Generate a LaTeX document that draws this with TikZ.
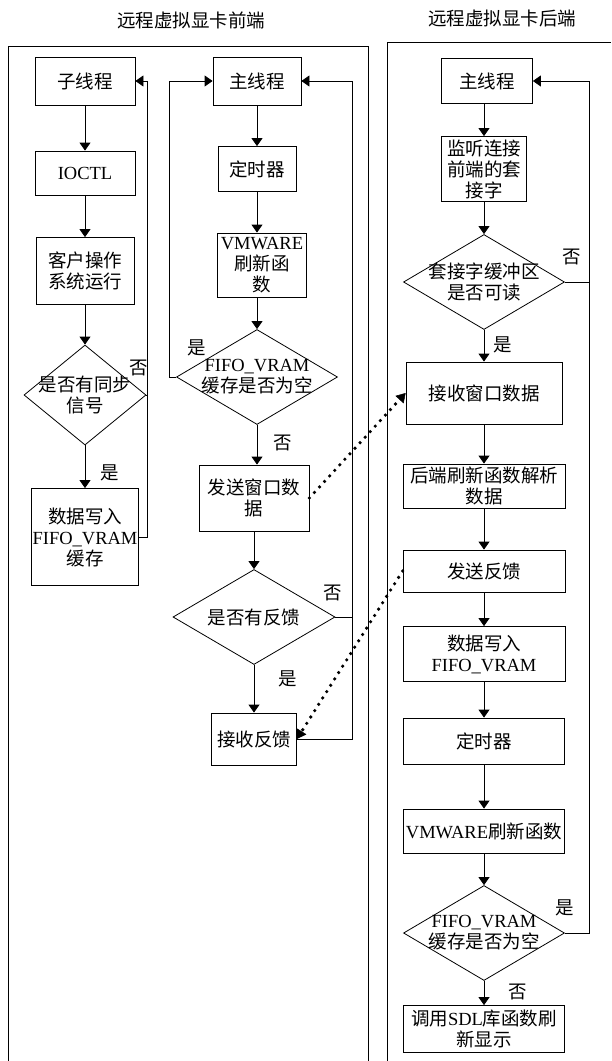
\documentclass[tikz,border=0pt]{standalone}
\usepackage{fontspec}
\setmainfont{Liberation Serif}
\newfontfamily\cjk{Noto Sans CJK SC}
\usetikzlibrary{shapes.geometric,arrows.meta}
\newcommand{\en}[1]{{\rmfamily #1}}
\begin{document}
\begin{tikzpicture}[x=1pt,y=-1pt]
\tikzstyle{every node}+=[inner sep=0pt,font=\cjk\fontsize{18.5}{21}\selectfont,align=center]
\tikzstyle{box}=[draw,line width=0.8pt,rectangle]
\tikzstyle{dia}=[draw,line width=0.8pt,diamond]
\tikzstyle{ln}=[line width=0.8pt]
\tikzstyle{arr}=[line width=0.8pt,-{Triangle[length=8pt,width=11pt]}]
\tikzstyle{dots}=[line width=3.6pt,line cap=round,dash pattern=on 0pt off 7.5pt,-{Triangle[length=9pt,width=11pt,line width=0.5pt]}]
\useasboundingbox (0,0) rectangle (611,1061);
\draw [line width=0.9pt] (8,1061) -- (8,46) -- (368,46) -- (368,1061);
\draw [line width=0.9pt] (387,1061) -- (387,42) -- (611,42);
\node (ftitle) at (191,20) {远程虚拟显卡前端};
\node (btitle) at (502,18) {远程虚拟显卡后端};
% front end, child thread
\node [box,minimum width=100,minimum height=48] (cthr) at (85,81) {子线程};
\node [box,minimum width=100,minimum height=44] (ioctl) at (85,173) {\en{IOCTL}};
\node [box,minimum width=98,minimum height=67] (guest) at (85,271) {客户操作\\系统运行};
\node [dia,minimum width=122,minimum height=100] (dsync) at (85,395) {};
\node (dsynct) at (dsync) {是否有同步\\信号};
\node [box,minimum width=107,minimum height=97] (wfifo) at (85,537) {数据写入\\\en{FIFO\_VRAM}\\缓存};
% front end, main thread
\node [box,minimum width=88,minimum height=48] (mthr) at (257,81) {主线程};
\node [box,minimum width=78,minimum height=45] (timer1) at (257,169) {定时器};
\node [box,minimum width=89,minimum height=64] (vmw1) at (262,265) {\en{VMWARE}\\刷新函\\数};
\node [dia,minimum width=161,minimum height=95] (dempty1) at (257,377) {};
\node (dempty1t) at (dempty1) {\en{FIFO\_VRAM}\\缓存是否为空};
\node [box,minimum width=110,minimum height=66] (sendwin) at (254,498) {发送窗口数\\据};
\node [dia,minimum width=162,minimum height=95] (dfb) at (254,617) {};
\node (dfbt) at (dfb) {是否有反馈};
\node [box,minimum width=85,minimum height=52] (rcvfb) at (254,739) {接收反馈};
% back end
\node [box,minimum width=91,minimum height=45] (bthr) at (487,81) {主线程};
\node [box,minimum width=85,minimum height=65] (listen) at (484,169) {监听连接\\前端的套\\接字};
\node [dia,minimum width=161,minimum height=95] (dread) at (484,282) {};
\node (dreadt) at (dread) {套接字缓冲区\\是否可读};
\node [box,minimum width=156,minimum height=62] (rcvwin) at (484,393) {接收窗口数据};
\node [box,minimum width=162,minimum height=44] (parse) at (484,486) {后端刷新函数解析\\数据};
\node [box,minimum width=162,minimum height=42] (sendfb) at (484,571) {发送反馈};
\node [box,minimum width=162,minimum height=55] (wfifo2) at (484,654) {数据写入\\\en{FIFO\_VRAM}};
\node [box,minimum width=161,minimum height=46] (timer2) at (484,741) {定时器};
\node [box,minimum width=161,minimum height=44] (vmw2) at (484,831) {\en{VMWARE}刷新函数};
\node [dia,minimum width=161,minimum height=95] (dempty2) at (484,933) {};
\node (dempty2t) at (dempty2) {\en{FIFO\_VRAM}\\缓存是否为空};
\node [box,minimum width=161,minimum height=47] (sdl) at (484,1029) {调用\en{SDL}库函数刷\\新显示};
% labels
\node (l1) at (139,368) {否};
\node (l2) at (110,473) {是};
\node (l3) at (197,348) {是};
\node (l4) at (283,443) {否};
\node (l5) at (333,593) {否};
\node (l6) at (288,679) {是};
\node (l7) at (572,257) {否};
\node (l8) at (503,345) {是};
\node (l9) at (565,908) {是};
\node (l10) at (518,992) {否};
% loop corners
\coordinate (cloop) at (147,537);
\coordinate (mloopl) at (169,377);
\coordinate (mloopr) at (352,739);
\coordinate (bloop) at (589,933);
% arrows
\draw [arr] (cthr) -- (ioctl);
\draw [arr] (ioctl) -- (guest);
\draw [arr] (guest) -- (dsync);
\draw [arr] (dsync) -- (wfifo);
\draw [arr] (wfifo.east) -- (cloop) |- (cthr.east);
\draw [ln] (dsync.east) -- (dsync.east -| cloop);
\draw [arr] (mthr) -- (timer1);
\draw [arr] (timer1.south) -- (timer1.south |- vmw1.north);
\draw [arr] (timer1.south |- vmw1.south) -- (dempty1.north);
\draw [arr] (dempty1.south) -- (dempty1.south |- sendwin.north);
\draw [arr] (sendwin) -- (dfb);
\draw [arr] (dfb) -- (rcvfb);
\draw [arr] (dempty1.west) -- (mloopl) |- (mthr.west);
\draw [arr] (rcvfb.east) -- (mloopr) |- (mthr.east);
\draw [ln] (dfb.east) -- (dfb.east -| mloopr);
\draw [arr] (bthr.south -| listen) -- (listen);
\draw [arr] (listen) -- (dread);
\draw [arr] (dread) -- (rcvwin);
\draw [arr] (rcvwin) -- (parse);
\draw [arr] (parse) -- (sendfb);
\draw [arr] (sendfb) -- (wfifo2);
\draw [arr] (wfifo2) -- (timer2);
\draw [arr] (timer2) -- (vmw2);
\draw [arr] (vmw2) -- (dempty2);
\draw [arr] (dempty2) -- (sdl);
\draw [arr] (dempty2.east) -- (bloop) |- (bthr.east);
\draw [ln] (dread.east) -- (dread.east -| bloop);
\draw [dots] (sendwin.east) -- (rcvwin.west);
\draw [dots] (sendfb.west) -- (rcvfb.east);
\end{tikzpicture}
\end{document}
